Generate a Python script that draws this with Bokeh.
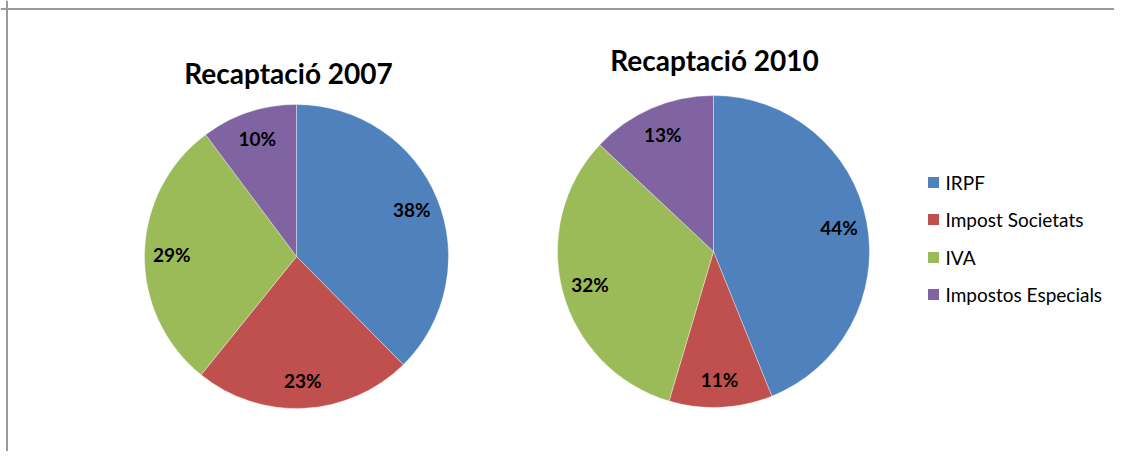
import math
from bokeh.plotting import figure
from bokeh.models import Range1d, ColumnDataSource, Span
from bokeh.core.properties import value
from bokeh.embed import file_html
from bokeh.resources import INLINE

# ---- data ----
categories = ["IRPF", "Impost Societats", "IVA", "Impostos Especials"]
colors = ["#4F81BD", "#C0504D", "#9BBB59", "#8064A2"]
share_2007 = [37.6, 23.2, 29.0, 10.2]
share_2010 = [43.9, 10.7, 32.4, 13.0]
pie_titles = ["Recaptació 2007", "Recaptació 2010"]

# ---- layout (image pixel coordinates) ----
W, H = 1114, 451


def py(img_y):
    return H - img_y


p = figure(width=W, height=H, x_range=Range1d(0, W), y_range=Range1d(0, H),
           output_backend="svg", toolbar_location=None, min_border=0)
p.axis.visible = False
p.grid.visible = False
p.outline_line_color = None
p.background_fill_color = "white"
p.border_fill_color = "white"

# chart border (left and top visible)
p.add_layout(Span(location=6.5, dimension="height", line_color="#9A9A9A", line_width=2))
p.add_layout(Span(location=py(8.5), dimension="width", line_color="#9A9A9A", line_width=2))

pies = [
    dict(cx=296, cy=256, r=152, data=share_2007, title=pie_titles[0], tx=288, ty=72),
    dict(cx=713, cy=251, r=156, data=share_2010, title=pie_titles[1], tx=714, ty=59),
]

for pie in pies:
    vals = pie["data"]
    total = sum(vals)
    starts, ends, lx, ly, labels = [], [], [], [], []
    cum = 0.0
    for v in vals:
        f0 = cum / total
        f1 = (cum + v) / total
        starts.append(math.pi / 2 - 2 * math.pi * f0)
        ends.append(math.pi / 2 - 2 * math.pi * f1)
        mid = math.pi / 2 - 2 * math.pi * (f0 + f1) / 2
        rr = pie["r"] * 0.82
        lx.append(pie["cx"] + rr * math.cos(mid))
        ly.append(py(pie["cy"]) + rr * math.sin(mid))
        labels.append(f"{round(v / total * 100):d}%")
        cum += v
    src = ColumnDataSource(dict(start=starts, end=ends, color=colors, cat=categories,
                                lx=lx, ly=ly, lab=labels))
    p.wedge(x=pie["cx"], y=py(pie["cy"]), radius=pie["r"], radius_units="screen",
            start_angle="start", end_angle="end", direction="clock",
            fill_color="color", line_color="white", line_width=0.6, line_alpha=0.6,
            source=src)
    p.text(x="lx", y="ly", text="lab", source=src, text_align="center",
           text_baseline="middle", text_font=value("Lato"), text_font_style="bold",
           text_font_size="19px", text_color="black")
    p.text(x=[pie["tx"]], y=[py(pie["ty"])], text=[pie["title"]], text_align="center",
           text_baseline="middle", text_font=value("Lato"), text_font_style="bold",
           text_font_size="28px", text_color="black")

# legend
leg_y = [182, 219, 257, 294]
leg_src = ColumnDataSource(dict(x=[933] * 4, y=[py(v) for v in leg_y], color=colors,
                                cat=categories, tx=[945] * 4))
p.scatter(x="x", y="y", marker="square", size=11, fill_color="color", line_color=None,
          source=leg_src)
p.text(x="tx", y="y", text="cat", source=leg_src, text_align="left", text_baseline="middle",
       text_font=value("Lato"), text_font_size="19px", text_color="black")

open("out.html", "w").write(file_html(p, INLINE))
